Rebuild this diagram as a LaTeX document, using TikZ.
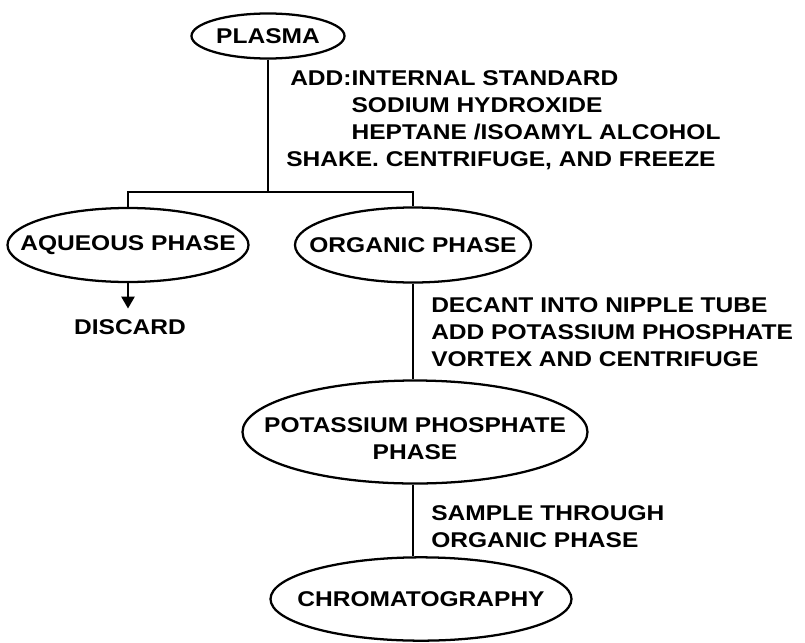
\documentclass[tikz,border=0pt]{standalone}
\usepackage{fontspec}
\setmainfont{Liberation Sans}[FakeStretch=1.15]
\usetikzlibrary{shapes.geometric,arrows.meta}

\newcommand{\phtext}[1]{\makebox[0pt]{#1}}

\tikzset{
    phase/.style={draw, ellipse, line width=1.7pt, inner sep=0pt, align=center,
        font=\bfseries\fontsize{16}{20.3}\selectfont},
    note/.style={anchor=north west, inner sep=0pt, align=left,
        font=\bfseries\fontsize{16}{20.3}\selectfont},
    flow/.style={line width=1.4pt},
}

\begin{document}
\begin{tikzpicture}[x=0.75pt, y=-0.75pt]
    \useasboundingbox (0,0) rectangle (805,642);
    % phases
    \node[phase, minimum width=114.75pt, minimum height=33.75pt] (plasma) at (268,36) {\phtext{PLASMA}};
    \node[phase, minimum width=180.75pt, minimum height=55.5pt] (aqueous) at (128,245) {\phtext{AQUEOUS PHASE}};
    \node[phase, minimum width=177pt, minimum height=56.25pt] (organic) at (413,245) {\phtext{ORGANIC PHASE}};
    \node[phase, minimum width=258.75pt, minimum height=77.25pt] (potassium) at (415,432) {\rule{0pt}{21.5pt}\phtext{POTASSIUM PHOSPHATE}\\\phtext{PHASE}};
    \node[phase, minimum width=225.75pt, minimum height=62.5pt] (chrom) at (421,599) {\phtext{CHROMATOGRAPHY}};
    \node[note, anchor=center] (discard) at (130,327) {DISCARD};
    % steps
    \node[note] (addnote) at (290,70.5) {ADD:INTERNAL STANDARD\\
        \phantom{ADD:}SODIUM HYDROXIDE\\
        \phantom{ADD:}HEPTANE /ISOAMYL ALCOHOL\\
        \hspace*{-3pt}SHAKE. CENTRIFUGE, AND FREEZE};
    \node[note] (decantnote) at (431,297.5) {DECANT INTO NIPPLE TUBE\\
        ADD POTASSIUM PHOSPHATE\\
        VORTEX AND CENTRIFUGE};
    \node[note] (samplenote) at (431,505.5) {SAMPLE THROUGH\\ORGANIC PHASE};
    % connectors
    \coordinate (split) at (268,192);
    \draw[flow] (plasma.south) -- (split);
    \draw[flow] (aqueous.north) |- (split) -| (organic.north);
    \draw[flow, -{Triangle[width=10pt, length=9pt]}, shorten >=8pt] (aqueous.south) -- (aqueous.south |- discard.north);
    \draw[flow] (organic.south) -- (organic.south |- potassium.north);
    \draw[flow] (organic.south |- potassium.south) -- (organic.south |- chrom.north);
\end{tikzpicture}
\end{document}
